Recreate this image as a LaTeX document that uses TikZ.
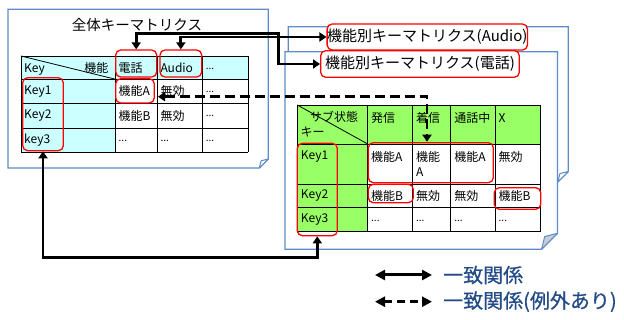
\documentclass[tikz,border=0pt]{standalone}
\usepackage{fontspec}
\newfontfamily\jp{Noto Sans CJK JP}
\newfontfamily\jpm[FakeBold=0.6]{Noto Sans CJK JP}
\usetikzlibrary{arrows.meta,calc}
\definecolor{docblue}{RGB}{95,140,200}
\definecolor{cyanfill}{RGB}{204,255,255}
\definecolor{greenfill}{RGB}{153,255,102}
\definecolor{flapgray}{RGB}{200,205,212}
\definecolor{legblue}{RGB}{35,75,135}
\begin{document}
\begin{tikzpicture}[x=1pt,y=-1pt,font=\jp,
 doc/.style={draw=docblue,line width=1.2pt,fill=white},
 flapw/.style={draw=docblue,line width=1pt,fill=white,line join=round},
 flapg/.style={draw=docblue,line width=1pt,fill=flapgray,line join=round},
 tgrid/.style={draw=black,line width=0.8pt},
 cell/.style={anchor=west,inner sep=0pt,font=\jp\fontsize{12}{14}\selectfont},
 dots/.style={anchor=west,inner sep=0pt,font=\jp\fontsize{10}{12}\selectfont},
 redbox/.style={draw=red,line width=1.3pt,rounded corners=5pt,inner sep=0pt},
 tbox/.style={redbox,fill=white,font=\jp\fontsize{15}{17}\selectfont},
 link/.style={line width=2.8pt,arrows={Triangle[length=7pt,width=9pt]-Triangle[length=7pt,width=9pt]}},
 dlink/.style={link,dash pattern=on 10pt off 5pt},
 legtext/.style={anchor=west,inner sep=0pt,text=legblue,font=\jpm\fontsize{20}{24}\selectfont},
 leglink/.style={line width=3pt,arrows={Triangle[length=10pt,width=10pt]-Triangle[length=10pt,width=10pt]}},
 dleglink/.style={leglink,dash pattern=on 8pt off 5pt}
]
\useasboundingbox (0,0) rectangle (624,320);

% ---------- left document ----------
\draw[doc] (8,9.3) -- (268.3,9.3) -- (268.3,159) -- (259.3,168) -- (8,168) -- cycle;
\draw[flapw] (268.3,159) -- (259.3,168) -- (261.1,160.8) -- cycle;
\node[inner sep=0pt,font=\jp\fontsize{14.5}{17}\selectfont] (ltitle) at (137,25) {全体キーマトリクス};

% left table
\fill[cyanfill] (21,56) rectangle (248,79.3);
\fill[cyanfill] (21,79.3) rectangle (115.7,152);
\foreach \yy in {56,79.3,103,128,152} \draw[tgrid] (21,\yy) -- (248,\yy);
\foreach \xx in {21,115.7,157.3,202.7,248} \draw[tgrid] (\xx,56) -- (\xx,152);
\draw[tgrid] (21,56) -- (115.7,79.3);

\node[cell] (lk) at (24,69.5) {Key};
\node[cell,anchor=east] (lf) at (108.5,67.5) {機能};
\node[cell] (lh1) at (118.5,67.7) {電話};
\node[cell] (lh2) at (160.3,67.7) {Audio};
\node[dots] (lh3) at (205.7,68.5) {...};
\node[cell] (lr1) at (24,91.2) {Key1};
\node[cell] (l11) at (118.5,91.2) {機能A};
\node[cell] (l12) at (160.3,91.2) {無効};
\node[dots] (l13) at (205.7,92) {...};
\node[cell] (lr2) at (24,115.5) {Key2};
\node[cell] (l21) at (118.5,115.5) {機能B};
\node[cell] (l22) at (160.3,115.5) {無効};
\node[dots] (l23) at (205.7,116.3) {...};
\node[cell] (lr3) at (24,140) {key3};
\node[dots] (l31) at (118.5,140.8) {...};
\node[dots] (l32) at (160.3,140.8) {...};
\node[dots] (l33) at (205.7,140.8) {...};

\node[redbox,minimum width=41pt,minimum height=27pt] (rDenwa) at (136.2,63.5) {};
\node[redbox,minimum width=41.7pt,minimum height=27pt] (rAudio) at (180.85,63.5) {};
\node[redbox,minimum width=38.6pt,minimum height=24.3pt] (rA) at (135,90.85) {};
\node[redbox,minimum width=40.6pt,minimum height=73pt] (rKeyL) at (43,114.2) {};

% ---------- back document (Audio) ----------
\draw[doc] (288.3,26.7) -- (568.3,26.7) -- (568.3,171.5) -- (557.8,182) -- (288.3,182) -- cycle;
\draw[flapw] (568.3,171.5) -- (557.8,182) -- (559.9,173.6) -- cycle;
\node[tbox,minimum width=200pt,minimum height=26pt] (tAudio) at (427.3,37) {機能別キーマトリクス(Audio)};

% ---------- front document (電話) ----------
\draw[doc] (285,51.7) -- (557.5,51.7) -- (557.5,233.3) -- (541.5,249.3) -- (285,249.3) -- cycle;
\draw[flapg] (557.5,233.3) -- (541.5,249.3) -- (544.7,236.5) -- cycle;
\node[tbox,minimum width=198.6pt,minimum height=26.6pt] (tDenwa) at (420,64) {機能別キーマトリクス(電話)};

% right table
\fill[greenfill] (297.3,105) rectangle (540.7,144);
\fill[greenfill] (297.3,144) rectangle (367.7,231.7);
\foreach \yy in {105,144,184,207.3,231.7} \draw[tgrid] (297.3,\yy) -- (540.7,\yy);
\foreach \xx in {297.3,367.7,412.3,450.7,495,540.7} \draw[tgrid] (\xx,105) -- (\xx,231.7);
\draw[tgrid] (297.3,105) -- (367.7,144);

\node[cell] (rs) at (310,116.7) {サブ状態};
\node[cell] (rk) at (300.5,132.3) {キー};
\node[cell] (rh1) at (371,118) {発信};
\node[cell] (rh2) at (415.8,118) {着信};
\node[cell] (rh3) at (454.2,118) {通話中};
\node[cell] (rh4) at (498.5,118) {X};
\node[cell] (rr1) at (300.7,157) {Key1};
\node[cell] (r11) at (371,157) {機能A};
\node[cell] (r12) at (415.8,157) {機能};
\node[cell] (r12b) at (415.8,171.7) {A};
\node[cell] (r13) at (454.2,157) {機能A};
\node[cell] (r14) at (498.5,157) {無効};
\node[cell] (rr2) at (300.7,196) {Key2};
\node[cell] (r21) at (371,196) {機能B};
\node[cell] (r22) at (415.8,196) {無効};
\node[cell] (r23) at (454.2,196) {無効};
\node[cell] (r24) at (498.5,196) {機能B};
\node[cell] (rr3) at (300.7,220) {Key3};
\node[dots] (r31) at (371,220.8) {...};
\node[dots] (r32) at (415.8,220.8) {...};
\node[dots] (r33) at (454.2,220.8) {...};
\node[dots] (r34) at (498.5,220.8) {...};

\node[redbox,minimum width=125pt,minimum height=40pt] (rRowA) at (430.8,162.7) {};
\node[redbox,minimum width=45pt,minimum height=18.4pt] (rBL) at (390.8,193.5) {};
\node[redbox,minimum width=46.4pt,minimum height=21.6pt] (rBX) at (517.5,198.5) {};
\node[redbox,minimum width=40pt,minimum height=92.4pt] (rKeyR) at (317.3,189.5) {};

% ---------- connectors ----------
\coordinate (jD) at (278.3,33.3);
\draw[link] (rDenwa.north) |- (jD) |- (tDenwa.west);
\draw[link] (rAudio.north) |- (tAudio.west);
\coordinate (dL) at (158,96.7);
\coordinate (dR) at (427,141.7);
\draw[dlink] (dL) -| (dR);
\coordinate (bot) at (180,257.3);
\draw[link] (rKeyL.south) |- (bot) -| (rKeyR.south);

% ---------- legend ----------
\coordinate (la1) at (375,275);
\coordinate (la2) at (432,275);
\draw[leglink] (la1) -- (la2);
\node[legtext] (lg1) at (443,275) {一致関係};
\coordinate (lb1) at (375,301.7);
\coordinate (lb2) at (432,301.7);
\draw[dleglink] (lb1) -- (lb2);
\node[legtext] (lg2) at (443,301.7) {一致関係(例外あり)};
\end{tikzpicture}
\end{document}
